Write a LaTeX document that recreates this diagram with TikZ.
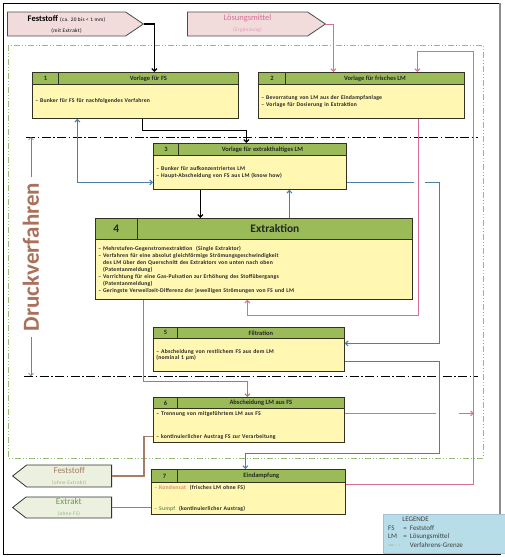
\documentclass[tikz,border=0pt]{standalone}
\usepackage{fontspec}
\setmainfont{Carlito}
\newfontfamily\sperr[LetterSpace=6]{Carlito}
\newfontfamily\sperrfett[LetterSpace=4]{Carlito Bold}
\usetikzlibrary{shapes.symbols,arrows.meta}

\definecolor{kopfgruen}{RGB}{155,187,89}
\definecolor{feldgelb}{RGB}{255,247,178}
\definecolor{rahmen}{RGB}{50,50,35}
\definecolor{lmblau}{RGB}{75,128,165}
\definecolor{lmrosa}{RGB}{214,110,155}
\definecolor{lmhell}{RGB}{225,150,180}
\definecolor{fsbraun}{RGB}{165,125,105}
\definecolor{fshell}{RGB}{190,160,140}
\definecolor{exgruen}{RGB}{112,150,95}
\definecolor{exhell}{RGB}{150,180,135}
\definecolor{kondrot}{RGB}{222,135,115}
\definecolor{grenzgruen}{RGB}{150,190,120}
\definecolor{druckbraun}{RGB}{170,112,90}
\definecolor{eingrosa}{RGB}{242,220,219}
\definecolor{ausgruen}{RGB}{235,241,222}
\definecolor{legblau}{RGB}{183,222,232}

\begin{document}
\begin{tikzpicture}[x=1pt, y=-1pt, >={Straight Barb[length=2.5pt,width=5pt]},
    nummer/.style={draw=rahmen, fill=kopfgruen, line width=0.8pt, inner sep=0pt,
      anchor=north west, text=black!85, font=\bfseries\fontsize{6.5}{7}\selectfont},
    feld/.style={draw=rahmen, fill=feldgelb, line width=0.8pt, inner sep=0pt,
      anchor=north west, align=left, text=black!85, font=\sperrfett\fontsize{5.7}{6.4}\selectfont},
    eingang/.style={signal, signal to=east, draw=black!70, fill=eingrosa, line width=0.8pt,
      inner sep=0pt, align=center, anchor=west, signal pointer angle=68},
    ausgang/.style={signal, signal to=west, draw=black!80, fill=ausgruen, line width=0.8pt,
      inner sep=0pt, align=center, anchor=east, signal pointer angle=76},
    fsweg/.style={line width=1.3pt, ->},
    blauweg/.style={draw=lmblau, line width=1.1pt},
    rosaweg/.style={draw=lmrosa, line width=1pt},
    braunweg/.style={draw=fsbraun, line width=1.1pt},
    gruenweg/.style={draw=exgruen, line width=1.2pt},
    grenze/.style={draw=grenzgruen, line width=0.8pt, dash pattern=on 6pt off 2pt on 1pt off 2pt on 1pt off 2pt},
    druckgrenze/.style={line width=0.8pt, dash pattern=on 9pt off 2.5pt on 1.5pt off 2.5pt},
    druckpfeil/.style={draw=druckbraun, line width=0.7pt, ->, shorten <=2pt}]

    \useasboundingbox (0,0) rectangle (505,557);

    % Rahmen und Grenzen
    \draw[line width=0.8pt] (3,3) rectangle (500,554);
    \draw[black!45, line width=2.5pt] (500,3) -- (500,514);
    \draw[grenze] (8,45) rectangle (483,458);
    \coordinate (dtop) at (26,137);
    \coordinate (dtopr) at (478,137);
    \coordinate (dbot) at (24,376);
    \coordinate (dbotr) at (478,376);
    \draw[druckgrenze] (dtop) -- (dtopr);
    \draw[druckgrenze] (dbot) -- (dbotr);

    % Druckverfahren
    \node[rotate=90, text=druckbraun, font=\fontsize{23}{26}\bfseries] (druck) at (31,257) {Druckverfahren};
    \draw[druckpfeil] (druck.east) -- (druck.east |- dtop);
    \draw[druckpfeil] (druck.west) -- (druck.west |- dbot);

    % Eingaenge
    \node[eingang, minimum width=136, minimum height=24] (fsin) at (7,24)
      {{\bfseries\fontsize{8.5}{9}\selectfont Feststoff} {\sperr\fontsize{5.3}{6}\selectfont (ca. 20 bis < 1 mm)}\\[-1pt]
       {\sperr\fontsize{5.3}{6}\selectfont (mit Extrakt)}};
    \node[eingang, minimum width=138, minimum height=24] (lmin) at (187,24)
      {{\color{lmrosa}\fontsize{8.5}{9}\selectfont Lösungsmittel}\\[-1pt]
       {\color{lmhell}\sperr\fontsize{5.3}{6}\selectfont (Ergänzung)}};

    % 1 Vorlage fuer FS
    \node[nummer, minimum width=26, minimum height=12] (b1n) at (32,72) {1};
    \node[nummer, minimum width=180, minimum height=12] (b1t) at (58,72) {Vorlage für FS};
    \node[feld, minimum width=206, minimum height=34, text width=200] (b1) at (32,84)
      {– Bunker für FS für nachfolgendes Verfahren};

    % 2 Vorlage fuer frisches LM
    \node[nummer, minimum width=27, minimum height=12] (b2n) at (258,72) {2};
    \node[nummer, minimum width=179, minimum height=12] (b2t) at (285,72) {Vorlage für frisches LM};
    \node[feld, minimum width=206, minimum height=34, text width=200] (b2) at (258,84)
      {– Bevorratung von LM aus der Eindampfanlage\\– Vorlage für Dosierung in Extraktion\\[6pt]};

    % 3 Vorlage fuer extrakthaltiges LM
    \node[nummer, minimum width=25, minimum height=12] (b3n) at (153,143) {3};
    \node[nummer, minimum width=168, minimum height=12] (b3t) at (178,143) {Vorlage für extrakthaltiges LM};
    \node[feld, minimum width=193, minimum height=34, text width=187] (b3) at (153,155)
      {– Bunker für aufkonzentriertes LM\\– Haupt-Abscheidung von FS aus LM (know how)};

    % 4 Extraktion
    \node[nummer, minimum width=42, minimum height=21, font=\fontsize{11.5}{13}\bfseries] (b4n) at (95,218) {4};
    \node[nummer, minimum width=275, minimum height=21, font=\fontsize{11.5}{13}\bfseries] (b4t) at (137,218) {Extraktion};
    \node[feld, minimum width=317, minimum height=60, text width=311, font=\sperrfett\fontsize{5.7}{7}\selectfont] (b4) at (95,239)
      {– Mehrstufen-Gegenstromextraktion\ \ (Single Extraktor)\\
       – Verfahren für eine absolut gleichförmige Strömungsgeschwindigkeit\\
       \phantom{– }des LM über den Querschnitt des Extraktors von unten nach oben\\
       \phantom{– }(Patentanmeldung)\\
       – Vorrichtung für eine Gas-Pulsation zur Erhöhung des Stoffübergangs\\
       \phantom{– }(Patentanmeldung)\\
       – Geringste Verweilzeit-Differenz der jeweiligen Strömungen von FS und LM};

    % 5 Filtration
    \node[nummer, minimum width=24, minimum height=11] (b5n) at (153,327) {5};
    \node[nummer, minimum width=167, minimum height=11] (b5t) at (177,327) {Filtration};
    \node[feld, minimum width=191, minimum height=33, text width=185] (b5) at (153,338)
      {– Abscheidung von restlichem FS aus dem LM\\(nominal 1 µm)};

    % 6 Abscheidung LM aus FS
    \node[nummer, minimum width=24, minimum height=11] (b6n) at (153,397) {6};
    \node[nummer, minimum width=167, minimum height=11] (b6t) at (177,397) {Abscheidung LM aus FS};
    \node[feld, minimum width=191, minimum height=34, text width=185] (b6) at (153,408)
      {– Trennung von mitgeführtem LM aus FS\\[16pt]– kontinuierlicher Austrag FS zur Verarbeitung};

    % 7 Eindampfung
    \node[nummer, minimum width=26, minimum height=13] (b7n) at (151,469) {7};
    \node[nummer, minimum width=168, minimum height=13] (b7t) at (177,469) {Eindampfung};
    \node[feld, minimum width=194, minimum height=32, text width=188] (b7) at (151,482)
      {{\color{kondrot}– Kondensat}\ \ (frisches LM ohne FS)\\[15pt]{\color{exgruen}– Sumpf}\ \ (kontinuierlicher Austrag)};

    % Ausgaenge
    \node[ausgang, minimum width=99, minimum height=22] (fsout) at (112,476)
      {{\color{fsbraun}\fontsize{9}{9.5}\selectfont Feststoff}\\[-1pt]
       {\color{fshell}\sperr\fontsize{5.3}{6}\selectfont (ohne Extrakt)}};
    \node[ausgang, minimum width=99, minimum height=21] (exout) at (112,507.5)
      {{\color{exgruen}\fontsize{9}{9.5}\selectfont Extrakt}\\[-1pt]
       {\color{exhell}\sperr\fontsize{5.3}{6}\selectfont (ohne FS)}};

    % Feststoff-Weg
    \draw[fsweg] (fsin.east) -| ([xshift=6]b1t.north);
    \draw[fsweg] ([xshift=7]b1.south) -- ++(0,12) -| ([xshift=-16]b3t.north);
    \draw[fsweg] ([xshift=-49.5]b3.south) -- ([xshift=-49.5]b3.south |- b4t.north);
    \draw[braunweg,->] ([xshift=-110.5]b4.south) -- ++(0,82) -| ([xshift=-13.5]b6t.north);
    \draw[braunweg] ([yshift=-11]b6.west) -- ++(-9,0) |- (fsout.east);

    % LM mit Extrakt
    \draw[blauweg,->] ([xshift=14.5]b4t.north) -- ([xshift=14.5]b4t.north |- b3.south);
    \draw[blauweg,<->] ([xshift=-58]b1.south) |- ([yshift=-10]b3.west);
    \draw[blauweg,->,dash pattern=on 67pt off 11pt on 300pt] ([yshift=-10]b3.east) -- ++(93,0) |- ([yshift=11.5]b5.east);
    \draw[blauweg,->] ([yshift=-6.5]b5.east) -- ++(95,0) -- ++(0,92) -| ([xshift=-16]b7t.north);

    % frisches LM
    \draw[rosaweg,->] (lmin.east) -| ([xshift=-41.5]b2t.north);
    \draw[rosaweg,->] ([xshift=57]b2.south) -- ++(0,197) -| ([xshift=-6.5]b4.south);
    \draw[rosaweg,->] ([yshift=14]b7.east) -- ++(128,0) coordinate (rv) -- ++(0,-433) -| ([xshift=42.5]b2t.north);
    \draw[rosaweg,->,dash pattern=on 91pt off 23pt on 60pt] ([yshift=12]b6.east) -- ([yshift=12]b6.east -| rv);

    % Extrakt
    \draw[gruenweg] (exout.east) -- (exout.east -| b7.west);

    % Legende
    \fill[legblau] (383,514) rectangle (505,553);
    \draw[lmblau!50, line width=0.6pt] (383,514) rectangle (505,553);
    \node[anchor=north west, inner sep=0pt, font=\fontsize{7}{8.6}\selectfont, text=black!75] (leg) at (388,515.5)
      {\begin{tabular}{@{}l@{\hspace{3pt}}c@{\hspace{3pt}}l@{}}
         \multicolumn{3}{c}{\hspace*{-20pt}LEGENDE}\\
         FS & = & Feststoff\\
         LM & = & Lösungsmittel\\
         {\color{exgruen}—}\,{\color{grenzgruen}·\,·} & & Verfahrens-Grenze
       \end{tabular}};
\end{tikzpicture}
\end{document}
